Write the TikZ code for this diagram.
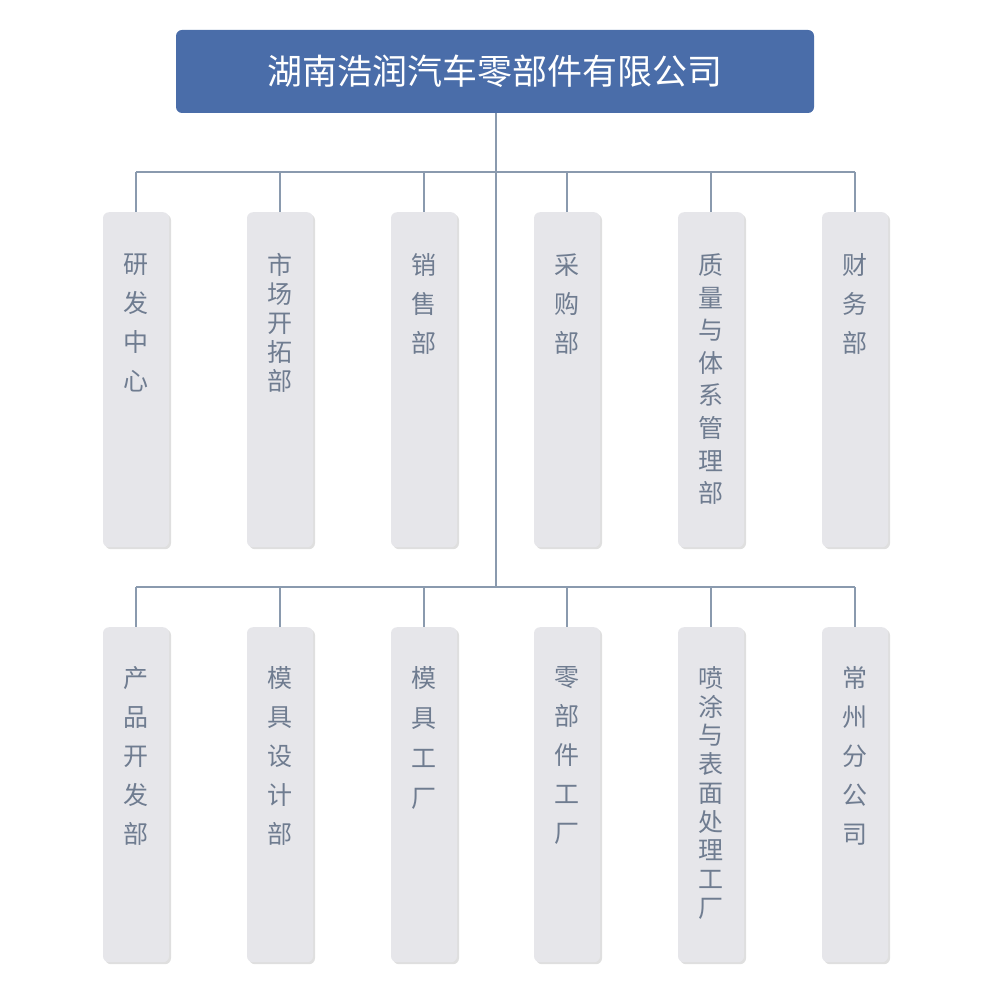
\documentclass[tikz,border=0pt]{standalone}
\usepackage{fontspec}
\newfontfamily\cjk{Noto Sans CJK SC}
\usetikzlibrary{shadows}
\definecolor{topblue}{HTML}{4A6DA9}
\definecolor{boxgray}{HTML}{E6E6EA}
\definecolor{txtgray}{HTML}{6F7C90}
\definecolor{linec}{HTML}{8A9AAE}
\begin{document}
\begin{tikzpicture}[x=1pt,y=-1pt,
  topbox/.style={fill=topblue,rounded corners=6pt,minimum width=638pt,minimum height=83pt,text=white,font=\cjk\fontsize{35}{40}\selectfont},
  dept/.style={fill=boxgray,rounded corners=6pt,minimum width=66pt,minimum height=335pt,anchor=north,drop shadow={shadow xshift=2pt,shadow yshift=-2pt,fill=black!25}},
  lbl/.style={anchor=north,text=txtgray,align=center},
  conn/.style={draw=linec,line width=1.3pt}]
\useasboundingbox (0,0) rectangle (1000,1000);
\node[topbox] (top) at (495,71.5) {湖南浩润汽车零部件有限公司};
\coordinate (j1) at (496,172);
\coordinate (j2) at (496,587);
\draw[conn] (top.south -| j1) -- (j2);
\foreach \i/\x/\s/\t in {1/136/39/{研\\发\\中\\心},2/280/29/{市\\场\\开\\拓\\部},3/424/39/{销\\售\\部},4/567/39/{采\\购\\部},5/711/32.6/{质\\量\\与\\体\\系\\管\\理\\部},6/855/39/{财\\务\\部}}{
  \node[dept] (a\i) at (\x,212) {};
  \node[lbl,font=\cjk\fontsize{25}{\s}\selectfont] (la\i) at (\x,250) {\t};
  \coordinate (ta\i) at (\x,172);
  \draw[conn] (ta\i) -- (a\i.north);
}
\foreach \i/\x/\s/\t in {1/136/39/{产\\品\\开\\发\\部},2/280/39/{模\\具\\设\\计\\部},3/424/40/{模\\具\\工\\厂},4/567/39/{零\\部\\件\\工\\厂},5/711/28.75/{喷\\涂\\与\\表\\面\\处\\理\\工\\厂},6/855/39/{常\\州\\分\\公\\司}}{
  \node[dept] (b\i) at (\x,627) {};
  \node[lbl,font=\cjk\fontsize{25}{\s}\selectfont] (lb\i) at (\x,663) {\t};
  \coordinate (tb\i) at (\x,587);
  \draw[conn] (tb\i) -- (b\i.north);
}
\draw[conn] (ta1) -- (ta6);
\draw[conn] (tb1) -- (tb6);
\end{tikzpicture}
\end{document}
